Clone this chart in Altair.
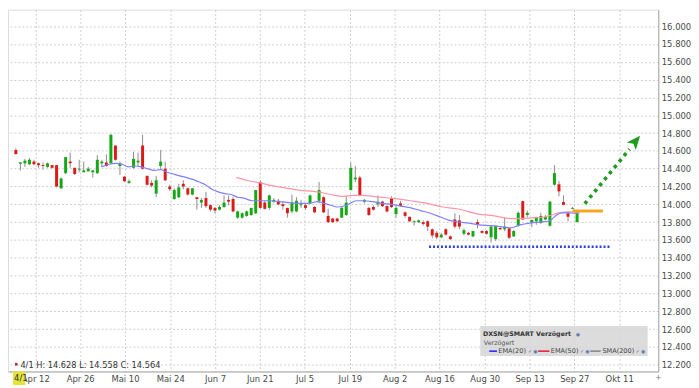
import altair as alt
import pandas as pd

# ---------------- data ----------------
opens = [14.61, 14.455, 14.46, 14.45, 14.48, 14.46, 14.44, 14.42, 14.44, 14.44,
         14.18, 14.35, 14.48, 14.41, 14.39, 14.36, 14.37, 14.36, 14.35, 14.46,
         14.47, 14.46, 14.66, 14.43, 14.31, 14.24, 14.41, 14.47, 14.66, 14.32,
         14.24, 14.12, 14.43, 14.40, 14.20, 14.06, 14.08, 14.23, 14.18, 14.11,
         14.08, 14.02, 14.07, 13.99, 13.96, 13.94, 13.97, 14.05, 14.06, 13.85,
         13.85, 13.87, 13.88, 13.90, 14.25, 14.02, 13.96, 14.03, 14.04, 14.00,
         13.96, 13.92, 13.92, 13.99, 13.99, 14.01, 13.97, 14.04, 14.08, 13.87,
         13.84, 13.84, 13.85, 13.88, 14.16, 14.28, 14.30, 14.03, 13.96, 13.97,
         14.00, 14.03, 13.98, 14.07, 13.89, 14.01, 13.91, 13.86, 13.80, 13.80,
         13.80, 13.81, 13.72, 13.68, 13.63, 13.72, 13.64, 13.83, 13.82, 13.67,
         13.68, 13.64, 13.80, 13.70, 13.70, 13.63, 13.61, 13.735, 13.72, 13.73,
         13.64, 13.76, 14.036, 13.88, 13.79, 13.81, 13.79, 13.83, 13.76, 14.22,
         14.225, 14.025, 13.90, 13.95, 13.80]
highs = [14.628, 14.475, 14.51, 14.52, 14.50, 14.47, 14.47, 14.47, 14.44, 14.44,
         14.30, 14.53, 14.58, 14.41, 14.50, 14.48, 14.42, 14.39, 14.55, 14.50,
         14.56, 14.79, 14.66, 14.48, 14.32, 14.28, 14.59, 14.58, 14.78, 14.32,
         14.27, 14.32, 14.61, 14.48, 14.22, 14.18, 14.23, 14.27, 14.19, 14.18,
         14.08, 14.07, 14.14, 14.00, 13.97, 13.99, 14.10, 14.10, 14.08, 13.93,
         13.91, 13.93, 13.96, 14.16, 14.27, 14.04, 14.11, 14.07, 14.06, 14.03,
         13.96, 14.11, 14.08, 14.05, 14.01, 14.11, 13.98, 14.25, 14.09, 13.95,
         13.85, 13.85, 13.97, 14.09, 14.47, 14.43, 14.32, 14.06, 13.97, 13.99,
         14.10, 14.04, 13.99, 14.09, 13.98, 14.04, 13.92, 13.86, 13.82, 13.83,
         13.82, 13.82, 13.73, 13.70, 13.68, 13.73, 13.65, 13.90, 13.88, 13.73,
         13.69, 13.70, 13.83, 13.71, 13.71, 13.76, 13.76, 13.74, 13.855, 13.74,
         13.71, 13.92, 14.04, 13.93, 13.83, 13.86, 13.905, 13.88, 14.036, 14.44,
         14.26, 14.10, 13.92, 13.97, 13.935]
lows = [14.558, 14.38, 14.42, 14.44, 14.44, 14.41, 14.39, 14.41, 14.40, 14.19,
        14.17, 14.34, 14.41, 14.33, 14.36, 14.36, 14.37, 14.30, 14.34, 14.42,
        14.42, 14.46, 14.49, 14.33, 14.25, 14.23, 14.40, 14.43, 14.39, 14.21,
        14.19, 14.08, 14.39, 14.26, 14.15, 14.05, 14.07, 14.17, 14.10, 14.10,
        13.94, 13.96, 13.96, 13.92, 13.90, 13.93, 13.96, 13.99, 13.91, 13.84,
        13.84, 13.86, 13.87, 13.89, 13.95, 13.94, 13.94, 14.02, 13.99, 13.94,
        13.85, 13.90, 13.91, 13.96, 13.94, 14.00, 13.90, 14.01, 13.90, 13.79,
        13.79, 13.80, 13.85, 13.87, 14.16, 14.25, 14.09, 14.01, 13.87, 13.93,
        13.97, 13.97, 13.91, 13.96, 13.85, 13.97, 13.85, 13.80, 13.76, 13.79,
        13.76, 13.70, 13.62, 13.61, 13.62, 13.65, 13.60, 13.73, 13.72, 13.65,
        13.65, 13.63, 13.73, 13.67, 13.66, 13.57, 13.59, 13.71, 13.70, 13.61,
        13.635, 13.75, 13.825, 13.855, 13.745, 13.77, 13.78, 13.82, 13.75, 14.21,
        14.09, 13.99, 13.81, 13.945, 13.80]
closes = [14.564, 14.47, 14.49, 14.50, 14.45, 14.44, 14.43, 14.46, 14.41, 14.20,
          14.29, 14.53, 14.46, 14.34, 14.40, 14.38, 14.40, 14.38, 14.50, 14.48,
          14.43, 14.78, 14.50, 14.46, 14.26, 14.26, 14.51, 14.49, 14.40, 14.22,
          14.21, 14.27, 14.48, 14.27, 14.17, 14.16, 14.19, 14.20, 14.11, 14.18,
          14.06, 14.05, 13.98, 13.94, 13.93, 13.97, 14.02, 14.03, 13.92, 13.92,
          13.90, 13.92, 13.96, 14.16, 13.96, 13.95, 14.10, 14.05, 14.00, 13.98,
          13.90, 14.02, 14.04, 14.00, 13.96, 14.10, 13.91, 14.16, 13.91, 13.80,
          13.80, 13.81, 13.96, 14.02, 14.41, 14.30, 14.10, 14.05, 13.88, 13.94,
          14.03, 13.98, 13.92, 13.97, 13.96, 13.98, 13.87, 13.81, 13.81, 13.82,
          13.78, 13.75, 13.65, 13.63, 13.66, 13.66, 13.61, 13.75, 13.75, 13.71,
          13.66, 13.70, 13.77, 13.68, 13.67, 13.75, 13.76, 13.72, 13.75, 13.625,
          13.70, 13.905, 13.83, 13.905, 13.825, 13.855, 13.87, 13.86, 14.03, 14.35,
          14.145, 13.995, 13.86, 13.96, 13.92]

ema20_slot = [18.9, 20.6, 22.1, 23.5, 24.9, 26.3, 27.7, 29.1, 30.6, 32.0,
              33.4, 34.8, 36.2, 37.7, 39.1, 40.5, 41.9, 43.3, 44.7, 46.2,
              47.6, 49.0, 50.4, 52.2, 54.0, 56.1, 58.2, 60.4, 62.5, 64.5,
              66.7, 68.2, 69.6, 71.0, 73.1, 74.2, 75.3, 76.7, 78.8, 80.9,
              83.0, 85.2, 87.3, 89.4, 91.6, 93.7, 95.8, 98.0, 100.0, 102.2,
              105.0, 107.9, 109.3, 111.4, 113.6, 115.7, 117.8, 119.2, 120.6, 122.1,
              123.5, 124.5]
ema20_val = [14.42, 14.45, 14.46, 14.45, 14.42, 14.43, 14.42, 14.40, 14.38, 14.39,
             14.36, 14.34, 14.32, 14.30, 14.28, 14.25, 14.22, 14.17, 14.14, 14.12,
             14.11, 14.08, 14.07, 14.04, 14.04, 14.04, 14.03, 14.02, 14.01, 14.01,
             14.03, 14.01, 13.99, 13.97, 13.99, 14.02, 14.04, 14.04, 14.03, 14.01,
             14.00, 13.98, 13.96, 13.93, 13.90, 13.86, 13.82, 13.80, 13.79, 13.77,
             13.76, 13.745, 13.735, 13.77, 13.79, 13.80, 13.81, 13.87, 13.905, 13.905,
             13.90, 13.90]
ema50_slot = [48.7, 51.0, 54.0, 56.5, 58.9, 62.5, 66.7, 69.6, 72.4, 74.5,
              76.7, 80.2, 83.8, 87.3, 90.9, 94.4, 98.0, 102.2, 105.7, 109.3,
              111.4, 114.3, 116.4, 118.5, 119.9, 122.1, 124.5]
ema50_val = [14.30, 14.27, 14.24, 14.21, 14.19, 14.16, 14.14, 14.11, 14.09, 14.10,
             14.10, 14.08, 14.065, 14.04, 14.01, 13.97, 13.945, 13.89, 13.87, 13.84,
             13.84, 13.85, 13.855, 13.88, 13.905, 13.915, 13.91]

tick_labels = ["Apr 12", "Apr 26", "Mai 10", "Mai 24", "Jun 7", "Jun 21", "Jul 5",
               "Jul 19", "Aug 2", "Aug 16", "Aug 30", "Sep 13", "Sep 27", "Okt 11"]
tick_slots = [4.3, 14.2, 24.1, 34.1, 44.0, 53.9, 63.8, 73.8, 83.7, 93.6,
              103.6, 113.5, 123.4, 133.3]
y_ticks = [12.2, 12.4, 12.6, 12.8, 13.0, 13.2, 13.4, 13.6, 13.8, 14.0,
           14.2, 14.4, 14.6, 14.8, 15.0, 15.2, 15.4, 15.6, 15.8, 16.0]

info_text = "4/1 H: 14.628 L: 14.558 C: 14.564"
first_day = "4/1"
legend_title = "DXSN@SMART Verzögert"
legend_sub = "Verzögert"
legend_names = ["EMA(20)", "EMA(50)", "SMA(200)"]
support_level = 13.525
breakout_level = 13.925

# ---------------- style ----------------
GREEN = "#14a814"
RED = "#dd1a1a"
FONT = "DejaVu Sans"
W, H = 656, 365

xscale = alt.Scale(domain=[-0.64, 140.85], nice=False, zero=False)
yscale = alt.Scale(domain=[12.124, 16.185], nice=False, zero=False)

label_expr = ("[" + ",".join("'%s'" % t for t in tick_labels) + "][indexof(["
              + ",".join(str(v) for v in tick_slots) + "], datum.value)]")

xaxis = alt.Axis(values=tick_slots, labelExpr=label_expr, grid=True, title=None,
                 gridColor="#cdcdcd", gridDash=[2, 2], ticks=False,
                 domainColor="#a8a8a8", labelFont=FONT, labelFontSize=8.5,
                 labelColor="#4a4a4a", labelPadding=3, labelFlush=False,
                 labelOverlap=False, zindex=0)
yaxis = alt.Axis(orient="right", values=y_ticks, format=".3f", grid=True, title=None,
                 gridColor="#cdcdcd", gridDash=[2, 2], ticks=False,
                 domainColor="#a8a8a8", labelFont=FONT, labelFontSize=8.5,
                 labelColor="#4a4a4a", labelPadding=3, labelFlush=False,
                 labelOverlap=False, zindex=0)


def X(field):
    return alt.X(field, type="quantitative", scale=xscale, axis=xaxis, title=None)


def Y(field):
    return alt.Y(field, type="quantitative", scale=yscale, axis=yaxis, title=None)


n = len(opens)
candles = pd.DataFrame({
    "slot": list(range(n)), "open": opens, "high": highs,
    "low": lows, "close": closes,
    "dir": ["up" if c >= o else "down" for o, c in zip(opens, closes)],
})

wicks = alt.Chart(candles).mark_rule(color="#8c8c8c", strokeWidth=1).encode(
    x=X("slot"), y=Y("low"), y2="high")

bodies = alt.Chart(candles).mark_bar(size=3).encode(
    x=X("slot"), y=Y("open"), y2="close",
    color=alt.Color("dir:N", legend=None,
                    scale=alt.Scale(domain=["up", "down"], range=[GREEN, RED])))

ema20 = alt.Chart(pd.DataFrame({"s": ema20_slot, "v": ema20_val})).mark_line(
    color="#8080ff", strokeWidth=1.2, interpolate="monotone").encode(
    x=X("s"), y=Y("v"))
ema50 = alt.Chart(pd.DataFrame({"s": ema50_slot, "v": ema50_val})).mark_line(
    color="#ff95a8", strokeWidth=1.2, interpolate="monotone").encode(
    x=X("s"), y=Y("v"))

# drawn annotations
support = alt.Chart(pd.DataFrame({"a": [91.3], "b": [131.6], "p": [support_level]})).mark_rule(
    color="#2f3fe6", strokeWidth=2.5, strokeDash=[2, 2]).encode(
    x=X("a"), x2="b", y=Y("p"))
breakout = alt.Chart(pd.DataFrame({"a": [123.0], "b": [129.7], "p": [breakout_level]})).mark_rule(
    color="#f5a521", strokeWidth=3).encode(x=X("a"), x2="b", y=Y("p"))
arrow_line = alt.Chart(pd.DataFrame({"a": [125.7], "b": [135.6], "p": [14.007], "q": [14.62]})).mark_rule(
    color="#1f9c1f", strokeWidth=3.6, strokeDash=[3.5, 4.3]).encode(
    x=X("a"), x2="b", y=Y("p"), y2="q")
arrow_head = alt.Chart(pd.DataFrame({"a": [136.85], "p": [14.704]})).mark_point(
    shape="M0,-1L0.78,0.8L0,0.38L-0.78,0.8Z", filled=True, size=230, angle=40,
    color="#1f9c1f", opacity=1).encode(x=X("a"), y=Y("p"))

# info line at the bottom of the plot
info_mark = alt.Chart(pd.DataFrame({"a": [0.1], "p": [12.205]})).mark_square(
    size=7, color="#b03030", opacity=1).encode(x=X("a"), y=Y("p"))
info = alt.Chart(pd.DataFrame({"a": [1.0], "p": [12.189], "t": [info_text]})).mark_text(
    align="left", baseline="middle", font=FONT, fontSize=8.3, color="#333333").encode(
    x=X("a"), y=Y("p"), text="t:N")

# highlighted first-day label on the x axis
day_box = alt.Chart(pd.DataFrame({"a": [-0.64], "b": [2.1], "p": [12.124], "q": [11.972]})).mark_rect(
    color="#e4e43a").encode(x=X("a"), x2="b", y=Y("p"), y2="q")
day_txt = alt.Chart(pd.DataFrame({"a": [-0.4], "p": [12.048], "t": [first_day]})).mark_text(
    align="left", baseline="middle", font=FONT, fontSize=8.5, color="#333333").encode(
    x=X("a"), y=Y("p"), text="t:N")
plus = alt.Chart(pd.DataFrame({"a": [141.2], "p": [12.048], "t": ["+"]})).mark_text(
    align="left", baseline="middle", font=FONT, fontSize=8, color="#777777").encode(
    x=X("a"), y=Y("p"), text="t:N")

# legend box
leg_box = alt.Chart(pd.DataFrame({"a": [102.6], "b": [139.6], "p": [12.634], "q": [12.297]})).mark_rect(
    color="#d6d6d6", opacity=0.85).encode(x=X("a"), x2="b", y=Y("p"), y2="q")
leg_title = alt.Chart(pd.DataFrame({"a": [103.2], "p": [12.547], "t": [legend_title]})).mark_text(
    align="left", baseline="middle", font=FONT, fontSize=6.4, fontWeight="bold",
    color="#333333").encode(x=X("a"), y=Y("p"), text="t:N")
leg_sub = alt.Chart(pd.DataFrame({"a": [103.4], "p": [12.444], "t": [legend_sub]})).mark_text(
    align="left", baseline="middle", font=FONT, fontSize=6.4, color="#555555").encode(
    x=X("a"), y=Y("p"), text="t:N")
leg_lines = alt.Chart(pd.DataFrame({
    "a": [104.6, 115.4, 126.9], "b": [106.3, 117.9, 129.2],
    "p": [12.352] * 3, "c": ["#2b2bff", "#e8203a", "#888888"]})).mark_rule(
    strokeWidth=1.6).encode(x=X("a"), x2="b", y=Y("p"),
                            color=alt.Color("c:N", scale=None, legend=None))
leg_names = alt.Chart(pd.DataFrame({
    "a": [106.6, 118.2, 129.6], "p": [12.352] * 3, "t": legend_names})).mark_text(
    align="left", baseline="middle", font=FONT, fontSize=6.6, color="#444444").encode(
    x=X("a"), y=Y("p"), text="t:N")
leg_icons = alt.Chart(pd.DataFrame({
    "a": [124.2, 113.6, 125.1, 137.4, 114.8, 126.3, 138.6],
    "p": [12.547, 12.352, 12.352, 12.352, 12.352, 12.352, 12.352],
    "t": ["◉", "✓", "✓", "✓", "◉", "◉", "◉"]})).mark_text(
    align="center", baseline="middle", font=FONT, fontSize=5, color="#4a6fb0").encode(
    x=X("a"), y=Y("p"), text="t:N")

chart = alt.layer(
    wicks, bodies, ema50, ema20, support, breakout, arrow_line, arrow_head,
    info_mark, info, day_box, day_txt, plus,
    leg_box, leg_title, leg_sub, leg_lines, leg_names, leg_icons,
).properties(
    width=W, height=H, padding=0, background="#ffffff"
).configure_view(
    stroke="#c8c8c8", strokeWidth=1
).configure(font=FONT)

chart.save("out.html", embed_options={"renderer": "svg", "actions": False})
